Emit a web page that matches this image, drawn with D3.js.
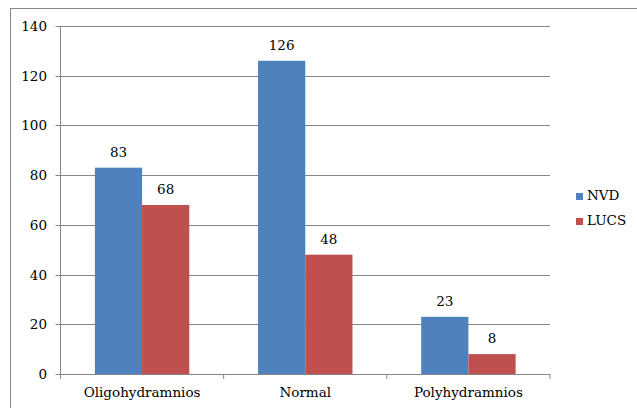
<!DOCTYPE html>
<html><head><meta charset="utf-8">
<script src="https://cdn.jsdelivr.net/npm/d3@7"></script>
<style>html,body{margin:0;padding:0;background:#fff;}svg{display:block;}</style>
</head><body>
<script>
const categories = ["Oligohydramnios", "Normal", "Polyhydramnios"];
const seriesNames = ["NVD", "LUCS"];
const nvdValues = [83, 126, 23];
const lucsValues = [68, 48, 8];
const yTicks = [0, 20, 40, 60, 80, 100, 120, 140];
const colors = ["#4F81BD", "#C0504D"];

(function () {
const W = 637, H = 408;
const svg = d3.select("body").append("svg").attr("width", W).attr("height", H);
const font = "'DejaVu Serif', serif";

svg.append("rect").attr("x", 10.5).attr("y", 8.5).attr("width", 640).attr("height", 420)
  .attr("fill", "#fff").attr("stroke", "#868686").attr("stroke-width", 1);

const pL = 60.5, pR = 550, pT = 26, pB = 374;
const x = d3.scaleBand().domain(categories).range([pL, pR]).paddingInner(0).paddingOuter(0);
const y = d3.scaleLinear().domain([0, 140]).range([pB, pT]);
const xs = d3.scaleBand().domain(seriesNames).range([0, x.bandwidth()]).paddingInner(0).paddingOuter(0.728);

const g = svg.append("g");
g.selectAll("line.grid").data(yTicks).join("line")
  .attr("x1", pL - 5).attr("x2", pR)
  .attr("y1", d => Math.round(y(d)) + 0.5).attr("y2", d => Math.round(y(d)) + 0.5)
  .attr("stroke", "#868686").attr("stroke-width", 1);
g.append("line").attr("x1", pL).attr("x2", pL).attr("y1", pT).attr("y2", pB)
  .attr("stroke", "#868686");
g.selectAll("text.ylab").data(yTicks).join("text")
  .attr("x", 47).attr("y", d => y(d) + 5)
  .attr("text-anchor", "end").attr("font-family", font).attr("font-size", 13.5)
  .attr("fill", "#000").text(d => d);
const bounds = [pL, ...categories.map(c => x(c) + x.bandwidth())];
g.selectAll("line.xt").data(bounds).join("line")
  .attr("x1", d => d).attr("x2", d => d).attr("y1", pB).attr("y2", pB + 5)
  .attr("stroke", "#868686");

const data = categories.map((c, i) => ({cat: c, vals: [nvdValues[i], lucsValues[i]]}));
const grp = g.selectAll("g.cat").data(data).join("g").attr("transform", d => `translate(${x(d.cat)},0)`);
grp.selectAll("rect").data(d => d.vals.map((v, j) => ({s: seriesNames[j], v, j}))).join("rect")
  .attr("x", d => xs(d.s)).attr("width", xs.bandwidth())
  .attr("y", d => y(d.v)).attr("height", d => y(0) - y(d.v))
  .attr("fill", d => colors[d.j]);
grp.selectAll("text").data(d => d.vals.map((v, j) => ({s: seriesNames[j], v, j}))).join("text")
  .attr("x", d => xs(d.s) + xs.bandwidth() / 2).attr("y", d => y(d.v) - 11)
  .attr("text-anchor", "middle").attr("font-family", font).attr("font-size", 13.5)
  .text(d => d.v);
g.selectAll("text.xlab").data(categories).join("text")
  .attr("x", d => x(d) + x.bandwidth() / 2).attr("y", 397)
  .attr("text-anchor", "middle").attr("font-family", font).attr("font-size", 13.5)
  .text(d => d);
const leg = svg.append("g");
seriesNames.forEach((s, i) => {
  const ly = 200 + i * 25;
  leg.append("rect").attr("x", 576).attr("y", ly - 7).attr("width", 7).attr("height", 7).attr("fill", colors[i]);
  leg.append("text").attr("x", 587).attr("y", ly).attr("font-family", font).attr("font-size", 13.5).text(s);
});
})();
</script>
</body></html>
